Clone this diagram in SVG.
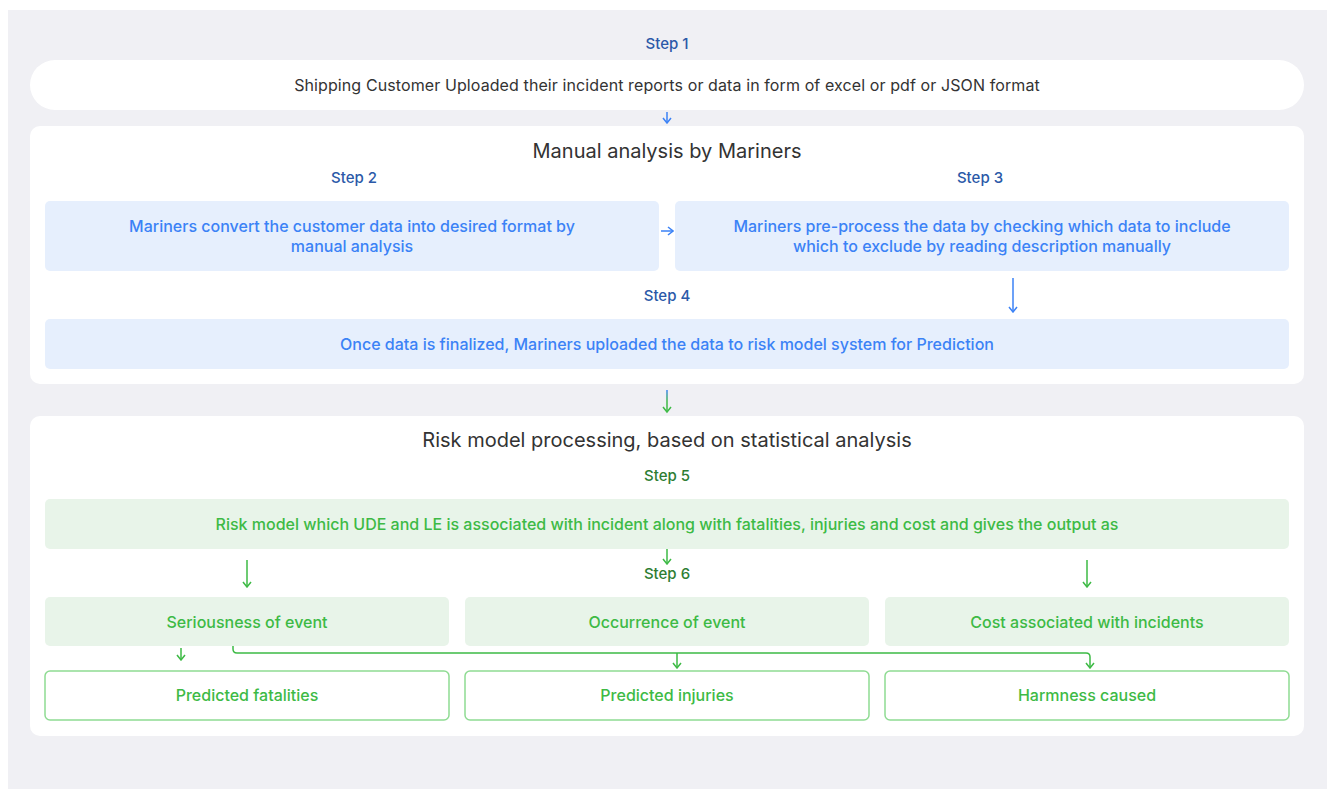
<svg xmlns="http://www.w3.org/2000/svg" width="1332" height="789" viewBox="0 0 1332 789">
<defs>
<style>
text{font-family:Inter,"Open Sans","Liberation Sans",sans-serif;text-anchor:middle}
.step-b{font-size:15px;font-weight:500;fill:#2b59a8}
.step-g{font-size:15px;font-weight:500;fill:#2e7d32}
.title{font-size:20px;fill:#333}
.dark{font-size:16px;fill:#333;letter-spacing:0.1px}
.blue{font-size:16px;font-weight:500;fill:#3b82f6}
.green{font-size:16px;font-weight:500;fill:#3dba45}
.bbox{fill:#e6effd}
.gbox{fill:#e8f4e9}
.obox{fill:#fff;stroke:#8fdb93;stroke-width:1.5}
.cb{fill:none;stroke:#3b82f6;stroke-width:1.5}
.cg{fill:none;stroke:#3dba45;stroke-width:1.5}
</style>
<marker id="ab" viewBox="0 0 10 10" refX="9" refY="5" markerWidth="10" markerHeight="10" markerUnits="userSpaceOnUse" orient="auto">
<path d="M4,1 L9,5 L4,9" fill="none" stroke="#3b82f6" stroke-width="1.5"/>
</marker>
<marker id="ag" viewBox="0 0 10 10" refX="9" refY="5" markerWidth="10" markerHeight="10" markerUnits="userSpaceOnUse" orient="auto">
<path d="M4,1 L9,5 L4,9" fill="none" stroke="#3dba45" stroke-width="1.5"/>
</marker>
<linearGradient id="bg2" gradientUnits="userSpaceOnUse" x1="667" y1="390" x2="667" y2="412">
<stop offset="0" stop-color="#3b82f6"/><stop offset="0.5" stop-color="#3dba45"/>
</linearGradient>
</defs>
<rect x="0" y="0" width="1332" height="789" fill="#fff"/>
<rect x="8" y="10" width="1319" height="779" fill="#f0f0f4"/>

<g id="step1">
<text class="step-b" x="667" y="49">Step 1</text>
<rect x="30" y="60" width="1274" height="50" rx="25" fill="#fff"/>
<text class="dark" x="667" y="91">Shipping Customer Uploaded their incident reports or data in form of excel or pdf or JSON format</text>
</g>

<g id="manual-panel">
<rect x="30" y="126" width="1274" height="258" rx="10" fill="#fff"/>
<text class="title" x="667" y="158">Manual analysis by Mariners</text>
</g>
<g id="step2">
<text class="step-b" x="354" y="183">Step 2</text>
<rect class="bbox" x="45" y="201" width="614" height="70" rx="5"/>
<text class="blue" x="352" y="232">Mariners convert the customer data into desired format by</text>
<text class="blue" x="352" y="252">manual analysis</text>
</g>
<g id="step3">
<text class="step-b" x="980" y="183">Step 3</text>
<rect class="bbox" x="675" y="201" width="614" height="70" rx="5"/>
<text class="blue" x="982" y="232">Mariners pre-process the data by checking which data to include</text>
<text class="blue" x="982" y="252">which to exclude by reading description manually</text>
</g>
<g id="step4">
<text class="step-b" x="667" y="301">Step 4</text>
<rect class="bbox" x="45" y="319" width="1244" height="50" rx="5"/>
<text class="blue" x="667" y="350">Once data is finalized, Mariners uploaded the data to risk model system for Prediction</text>
</g>

<g id="risk-panel">
<rect x="30" y="416" width="1274" height="320" rx="10" fill="#fff"/>
<text class="title" x="667" y="447">Risk model processing, based on statistical analysis</text>
</g>
<g id="step5">
<text class="step-g" x="667" y="481">Step 5</text>
<rect class="gbox" x="45" y="499" width="1244" height="50" rx="5"/>
<text class="green" x="667" y="530">Risk model which UDE and LE is associated with incident along with fatalities, injuries and cost and gives the output as</text>
</g>
<g id="step6">
<text class="step-g" x="667" y="579">Step 6</text>
</g>
<g id="seriousness">
<rect class="gbox" x="45" y="597" width="404" height="49" rx="5"/>
<text class="green" x="247" y="628">Seriousness of event</text>
</g>
<g id="occurrence">
<rect class="gbox" x="465" y="597" width="404" height="49" rx="5"/>
<text class="green" x="667" y="628">Occurrence of event</text>
</g>
<g id="cost">
<rect class="gbox" x="885" y="597" width="404" height="49" rx="5"/>
<text class="green" x="1087" y="628">Cost associated with incidents</text>
</g>
<g id="fatalities">
<rect class="obox" x="45" y="671" width="404" height="49" rx="5"/>
<text class="green" x="247" y="701">Predicted fatalities</text>
</g>
<g id="injuries">
<rect class="obox" x="465" y="671" width="404" height="49" rx="5"/>
<text class="green" x="667" y="701">Predicted injuries</text>
</g>
<g id="harmness">
<rect class="obox" x="885" y="671" width="404" height="49" rx="5"/>
<text class="green" x="1087" y="701">Harmness caused</text>
</g>

<g id="connectors">
<path class="cb" d="M667,112 V123" marker-end="url(#ab)"/>
<path class="cb" d="M661,231 H673" marker-end="url(#ab)"/>
<path class="cb" d="M1013,278 V312" marker-end="url(#ab)"/>
<path d="M667,390 V412" fill="none" stroke="url(#bg2)" stroke-width="1.5"/>
<path d="M663,407 L667,412 L671,407" fill="none" stroke="#3dba45" stroke-width="1.5"/>
<path class="cg" d="M667,549 V564" marker-end="url(#ag)"/>
<path class="cg" d="M247,560 V587" marker-end="url(#ag)"/>
<path class="cg" d="M1087,560 V587" marker-end="url(#ag)"/>
<path class="cg" d="M181,648 V660" marker-end="url(#ag)"/>
<path class="cg" d="M233,646 V649 Q233,653 237,653 H1086 Q1090,653 1090,657 V668" marker-end="url(#ag)"/>
<path class="cg" d="M677,653 V668" marker-end="url(#ag)"/>
</g>
</svg>
